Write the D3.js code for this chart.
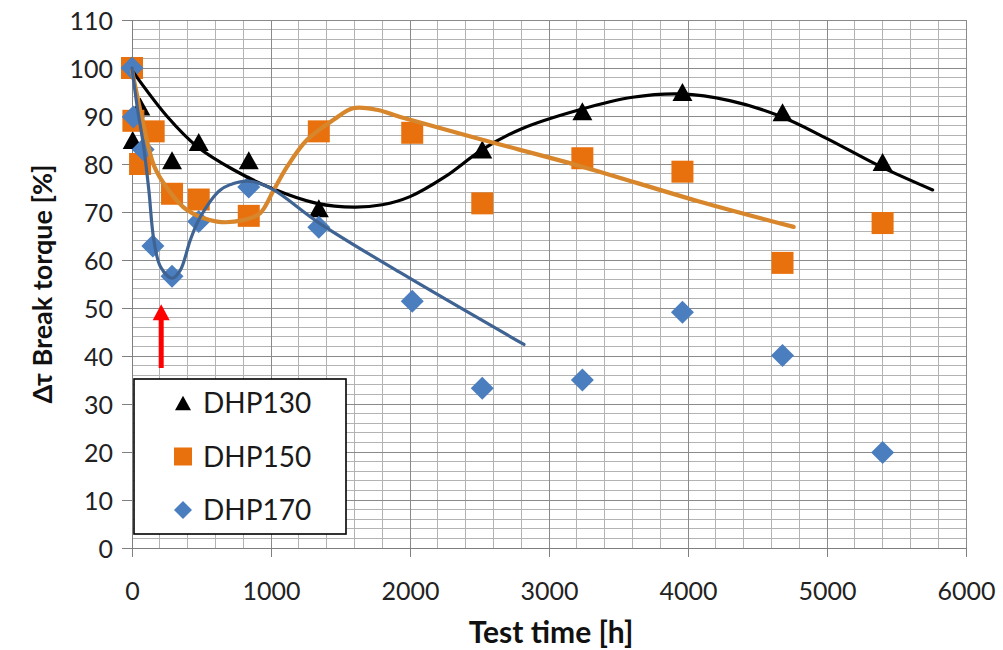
<!DOCTYPE html>
<html>
<head>
<meta charset="utf-8">
<script src="https://cdn.jsdelivr.net/npm/d3@7"></script>
<style>
  html, body { margin: 0; padding: 0; background: #fff; }
  svg { display: block; }
  text { font-family: Lato, "Open Sans", "Noto Sans", sans-serif; }
</style>
</head>
<body>
<script>
// ---------------- data ----------------
const seriesNames = ["DHP130", "DHP150", "DHP170"];

const t130 = [0, 5, 60, 288, 480, 840, 1344, 2520, 3240, 3960, 4680, 5400];
const v130 = [100, 85, 92, 80.8, 84.6, 80.8, 70.8, 83, 91, 95, 90.8, 80.4];

const t150 = [0, 10, 58, 156, 288, 480, 840, 1344, 2016, 2520, 3240, 3960, 4680, 5400];
const v150 = [100, 89, 80, 86.8, 73.8, 72.6, 69.2, 86.8, 86.5, 71.8, 81.2, 78.4, 59.4, 67.7];

const t170 = [0, 10, 80, 150, 288, 480, 840, 1344, 2016, 2520, 3240, 3960, 4680, 5400];
const v170 = [100, 89.8, 83, 62.9, 56.6, 68, 75.2, 66.8, 51.4, 33.3, 35, 49.1, 40.1, 19.9];

// hand-drawn trend curves: [time, value]
const trend130 = [[0,99.5],[250,90],[470,83.6],[730,78.8],[1000,75],[1330,71.8],[1600,71],[1800,71.5],[2000,73.2],[2250,77.3],[2520,83],[2800,87.3],[3220,91.3],[3600,93.9],[3950,94.6],[4300,93.2],[4660,90],[5000,85.3],[5390,79.4],[5760,74.6]];
const trend150 = [[0,99.5],[80,88.5],[160,79.5],[252,75],[396,70.4],[612,68],[800,68.3],[920,69.7],[1020,74.6],[1115,79.4],[1258,85],[1450,89.2],[1590,91.6],[1760,91.3],[1930,89.8],[2500,85.2],[3220,79.6],[4080,72.2],[4760,66.9]];
const trend170 = [[0,100],[37,92],[84,83.6],[121,74.6],[157,64.2],[205,58.6],[288,56.2],[348,57.9],[420,64.2],[492,69],[636,74.6],[779,76.3],[875,76.3],[1019,74.6],[1342,67.8],[1928,57.4],[2820,42.4]];

const xTicks = [0, 1000, 2000, 3000, 4000, 5000, 6000];
const yTicks = [0, 10, 20, 30, 40, 50, 60, 70, 80, 90, 100, 110];

const xTitle = "Test time [h]";
const yTitle = "Δτ Break torque [%]";

// red arrow annotation (time, from value, to value)
const arrowTime = 210, arrowFrom = 37.5, arrowTo = 50.8;

// ---------------- chart ----------------
const W = 1003, H = 650;
const svg = d3.select("body").append("svg").attr("width", W).attr("height", H);
svg.append("rect").attr("width", W).attr("height", H).attr("fill", "#fff");

const x = d3.scaleLinear().domain([0, 6000]).range([132, 966]);
const y = d3.scaleLinear().domain([0, 110]).range([548, 20]);

// grid
const grid = svg.append("g").attr("shape-rendering", "crispEdges");
const minorX = d3.range(200, 6000, 200).filter(d => d % 1000 !== 0);
const minorY = d3.range(2, 110, 2).filter(d => d % 10 !== 0);
grid.selectAll(".mx").data(minorX).join("line")
  .attr("x1", d => x(d)).attr("x2", d => x(d)).attr("y1", y(0)).attr("y2", y(110))
  .attr("stroke", "#b3b3b3").attr("stroke-width", 1);
grid.selectAll(".my").data(minorY).join("line")
  .attr("y1", d => y(d)).attr("y2", d => y(d)).attr("x1", x(0)).attr("x2", x(6000))
  .attr("stroke", "#b3b3b3").attr("stroke-width", 1);
grid.selectAll(".Mx").data(xTicks).join("line")
  .attr("x1", d => x(d)).attr("x2", d => x(d)).attr("y1", y(0)).attr("y2", y(110))
  .attr("stroke", "#8a8a8a").attr("stroke-width", 1);
grid.selectAll(".My").data(yTicks).join("line")
  .attr("y1", d => y(d)).attr("y2", d => y(d)).attr("x1", x(0)).attr("x2", x(6000))
  .attr("stroke", "#8a8a8a").attr("stroke-width", 1);

// axes
const xAxis = svg.append("g").attr("transform", `translate(0,${y(0)})`)
  .call(d3.axisBottom(x).tickValues(xTicks).tickFormat(d3.format("d")).tickSize(9));
xAxis.select(".domain").attr("stroke", "#7f7f7f");
xAxis.selectAll(".tick line").attr("stroke", "#7f7f7f");
xAxis.selectAll(".tick text").attr("y", 43).attr("dy", "0.36em")
  .attr("font-size", 25).attr("fill", "#222");

const yAxis = svg.append("g").attr("transform", `translate(${x(0)},0)`)
  .call(d3.axisLeft(y).tickValues(yTicks).tickFormat(d3.format("d")).tickSize(10));
yAxis.select(".domain").attr("stroke", "#7f7f7f");
yAxis.selectAll(".tick line").attr("stroke", "#7f7f7f");
yAxis.selectAll(".tick text").attr("x", -19).attr("dy", "0.36em")
  .attr("font-size", 25).attr("fill", "#222");
svg.selectAll(".tick text").attr("font-family", "Lato, 'Open Sans', sans-serif");

// titles
svg.append("text").attr("x", (x(0) + x(6000)) / 2 + 2).attr("y", 632).attr("dy", "0.36em")
  .attr("text-anchor", "middle").attr("font-size", 30).attr("font-weight", "bold")
  .attr("fill", "#111").text(xTitle);
svg.append("text").attr("transform", `translate(42,${(y(0) + y(110)) / 2}) rotate(-90)`)
  .attr("dy", "0.36em").attr("text-anchor", "middle").attr("font-size", 27)
  .attr("font-weight", "bold").attr("fill", "#111").text(yTitle);

// marker shapes
function markerPath(kind, s) {
  const h = s / 2;
  if (kind === "triangle") {
    const th = s * 0.9;
    return `M0,${-th / 2}L${h},${th / 2}L${-h},${th / 2}Z`;
  }
  if (kind === "square") return `M${-h},${-h}H${h}V${h}H${-h}Z`;
  return `M0,${-h}L${h},0L0,${h}L${-h},0Z`;
}

const series = [
  { name: seriesNames[0], t: t130, v: v130, kind: "triangle", size: 20, fill: "#000000" },
  { name: seriesNames[1], t: t150, v: v150, kind: "square", size: 22, fill: "#E8710D" },
  { name: seriesNames[2], t: t170, v: v170, kind: "diamond", size: 23, fill: "#4A7EBF" }
];

series.forEach(s => {
  svg.append("g").selectAll("path").data(s.t.map((t, i) => [t, s.v[i]])).join("path")
    .attr("transform", d => `translate(${x(d[0])},${y(d[1])})`)
    .attr("d", markerPath(s.kind, s.size))
    .attr("fill", s.fill);
});

// trend curves
const line = d3.line().x(d => x(d[0])).y(d => y(d[1])).curve(d3.curveCatmullRom.alpha(0.5));
const trends = [
  { data: trend130, color: "#000000", w: 3.2 },
  { data: trend150, color: "#D8862B", w: 4.2 },
  { data: trend170, color: "#3F6494", w: 3.2 }
];
trends.forEach(tr => {
  svg.append("path").attr("d", line(tr.data)).attr("fill", "none")
    .attr("stroke", tr.color).attr("stroke-width", tr.w)
    .attr("stroke-linecap", "round").attr("stroke-linejoin", "round");
});

// red arrow
const ax = x(arrowTime), ay0 = y(arrowFrom), ay1 = y(arrowTo);
svg.append("rect").attr("x", ax - 2.5).attr("y", ay1 + 14).attr("width", 5)
  .attr("height", ay0 - ay1 - 14).attr("fill", "#FF0000");
svg.append("path").attr("d", `M${ax},${ay1}L${ax + 8.5},${ay1 + 16}L${ax - 8.5},${ay1 + 16}Z`)
  .attr("fill", "#FF0000");

// legend
const lg = svg.append("g");
lg.append("rect").attr("x", 134).attr("y", 379).attr("width", 212).attr("height", 155)
  .attr("fill", "#fff").attr("stroke", "#000").attr("stroke-width", 1.6);
const legendSizes = [16, 18, 18];
series.forEach((s, i) => {
  const cy = 403 + i * 53.5;
  lg.append("path").attr("transform", `translate(183,${cy})`)
    .attr("d", markerPath(s.kind, legendSizes[i])).attr("fill", s.fill);
  lg.append("text").attr("x", 203).attr("y", cy).attr("dy", "0.36em")
    .attr("font-size", 28).attr("fill", "#1a1a1a").text(s.name);
});
</script>
</body>
</html>
